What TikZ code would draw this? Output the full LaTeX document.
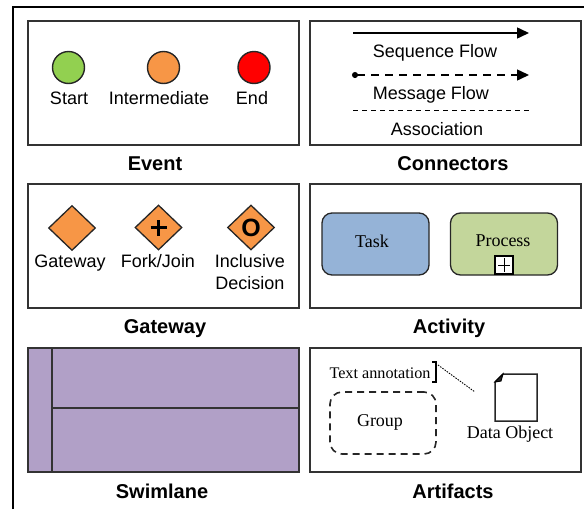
\documentclass[tikz,border=0pt]{standalone}
\usepackage{fontspec}
\setmainfont{Liberation Sans}
\newfontfamily\seriffont{Liberation Serif}
\usetikzlibrary{arrows.meta,shapes.geometric}
\definecolor{startgreen}{HTML}{92D050}
\definecolor{midorange}{HTML}{F79646}
\definecolor{endred}{HTML}{FF0000}
\definecolor{taskblue}{HTML}{95B3D7}
\definecolor{procgreen}{HTML}{C3D69B}
\definecolor{lanepurple}{HTML}{B1A0C7}
\definecolor{framegray}{HTML}{333333}
\begin{document}
\begin{tikzpicture}[x=1pt,y=-1pt,
  panel/.style={draw=framegray,line width=1.6pt,minimum width=271pt,minimum height=124pt,anchor=north west,inner sep=0pt},
  title/.style={font=\fontsize{20}{24}\selectfont\bfseries,anchor=base},
  lbl/.style={font=\fontsize{18}{21}\selectfont,anchor=base},
  slbl/.style={font=\fontsize{18}{21}\seriffont,anchor=base},
  event/.style={circle,draw=black!85,line width=1.4pt,minimum size=32pt,inner sep=0pt},
  gate/.style={diamond,draw=black!85,line width=1.3pt,fill=midorange,minimum width=47pt,minimum height=45pt,inner sep=0pt},
  activity/.style={draw=black!85,line width=1.3pt,rounded corners=10pt,minimum width=107pt,minimum height=62pt,inner sep=0pt},
  seqflow/.style={line width=1.5pt,-{Triangle[length=12pt,width=11pt]}},
  msgflow/.style={line width=1.5pt,dash pattern=on 8pt off 6pt,{Circle[length=6pt]}-{Triangle[length=12pt,width=11pt]}},
  assoc/.style={line width=1pt,dash pattern=on 5pt off 4pt}
]
\useasboundingbox (0,0) rectangle (584,509);
% outer frame
\draw[line width=2.6pt] (13,509) -- (13,7) -- (584,7);

% ---------- Event ----------
\node[panel] (evbox) at (27,20) {};
\node[event,fill=startgreen] (start) at (68.5,67.5) {};
\node[event,fill=midorange] (inter) at (163.5,67.5) {};
\node[event,fill=endred] (endev) at (254,67.5) {};
\node[lbl] (startl) at (69,104) {Start};
\node[lbl] (interl) at (159,104) {Intermediate};
\node[lbl] (endl) at (252,104) {End};
\node[title] (evt) at (155,170) {Event};

% ---------- Connectors ----------
\node[panel] (conbox) at (309,20) {};
\coordinate (s1) at (353,33);
\coordinate (s2) at (529,33);
\draw[seqflow] (s1) -- (s2);
\node[lbl] (seql) at (435,57) {Sequence Flow};
\coordinate (m1) at (352,75);
\coordinate (m2) at (529,75);
\draw[msgflow] (m1) -- (m2);
\node[lbl] (msgl) at (431,99) {Message Flow};
\coordinate (a1) at (353,110);
\coordinate (a2) at (530,110);
\draw[assoc] (a1) -- (a2);
\node[lbl] (assl) at (437,135) {Association};
\node[title] (cont) at (453,170) {Connectors};

% ---------- Gateway ----------
\node[panel] (gwbox) at (27,183) {};
\node[gate] (gw) at (72,228) {};
\node[gate] (fork) at (158.5,227.5) {};
\draw[line width=3.6pt] ([xshift=-8pt]fork.center) -- ([xshift=8pt]fork.center);
\draw[line width=3.6pt] ([yshift=-8pt]fork.center) -- ([yshift=8pt]fork.center);
\node[gate] (incl) at (251,227.5) {};
\node[font=\fontsize{25}{26}\selectfont\bfseries,inner sep=0pt] (inclo) at (incl.center) {O};
\node[lbl] (gwl) at (70,267) {Gateway};
\node[lbl] (forkl) at (158,267) {Fork/Join};
\node[lbl] (incl1) at (250,267) {Inclusive};
\node[lbl] (incl2) at (250,289) {Decision};
\node[title] (gwt) at (165,333) {Gateway};

% ---------- Activity ----------
\node[panel] (acbox) at (309,183) {};
\node[activity,fill=taskblue] (task) at (375.5,244) {};
\node[activity,fill=procgreen] (proc) at (504,244) {};
\node[slbl] (taskl) at (372,247) {Task};
\node[slbl] (procl) at (503,246) {Process};
\node[draw=black,line width=1.4pt,fill=white,minimum size=18pt,inner sep=0pt] (plusbox) at (504,265) {};
\draw[line width=1pt] ([xshift=-6pt]plusbox.center) -- ([xshift=6pt]plusbox.center);
\draw[line width=1pt] ([yshift=-7pt]plusbox.center) -- ([yshift=7pt]plusbox.center);
\node[title] (act) at (449,333) {Activity};

% ---------- Swimlane ----------
\node[panel,fill=lanepurple] (swbox) at (27,347) {};
\draw[line width=1.4pt,draw=framegray] (52,347) -- (52,471);
\draw[line width=1.4pt,draw=framegray] (52,408) -- (298,408);
\node[title] (swt) at (162,498) {Swimlane};

% ---------- Artifacts ----------
\node[panel] (arbox) at (309,347) {};
\node[font=\fontsize{16.2}{18}\seriffont,anchor=base] (annot) at (380,378) {Text annotation};
\draw[line width=1.8pt] (432,362) -- (436,362) -- (436,382) -- (432,382);
\coordinate (an1) at (438,365);
\coordinate (an2) at (475,392);
\draw[line width=0.9pt,dash pattern=on 1.5pt off 1.2pt] (an1) -- (an2);
\node[draw=black!85,line width=1.6pt,dash pattern=on 7pt off 5pt,rounded corners=12pt,minimum width=106pt,minimum height=62pt,inner sep=0pt] (group) at (383,423) {};
\node[slbl] (groupl) at (380,426) {Group};
\draw[line width=1.5pt,draw=black!85] (503,374) -- (537,374) -- (537,421) -- (495,421) -- (495,382) -- cycle;
\draw[line width=1pt,fill=black!85] (495,382) -- (503,374) -- (501,381) -- cycle;
\node[slbl] (datal) at (510,438) {Data Object};
\node[title] (art) at (453,498) {Artifacts};
\end{tikzpicture}
\end{document}
